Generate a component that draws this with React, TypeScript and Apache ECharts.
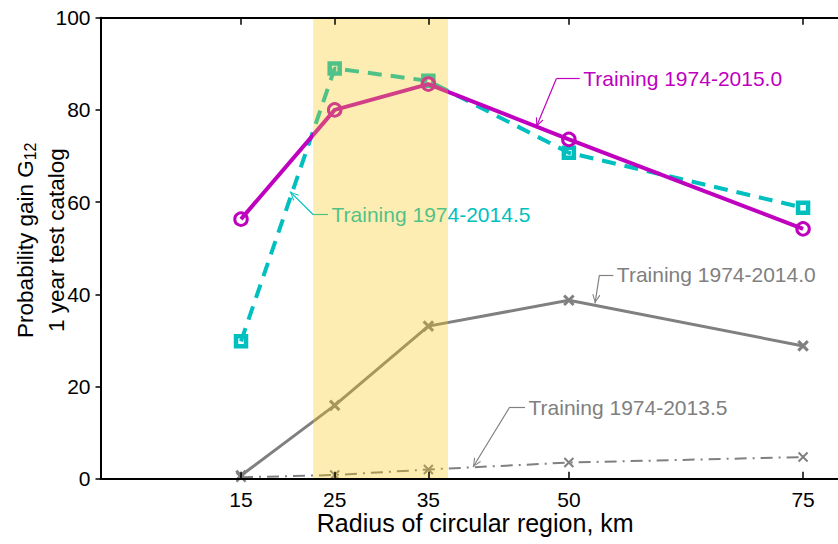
import React, { useEffect, useRef } from 'react';
import * as echarts from 'echarts';

// ---- data ----
const radii = [15, 25, 35, 50, 75];
const gain2015_0 = [56.3, 80.0, 85.6, 73.6, 54.2];
const gain2014_5 = [29.8, 89.0, 86.3, 70.7, 58.8];
const gain2014_0 = [0.7, 15.9, 33.1, 38.7, 28.8];
const gain2013_5 = [0.3, 0.8, 2.0, 3.5, 4.7];

const xTicks = [15, 25, 35, 50, 75];
const shadedBand = [22.7, 37.1];

const names = [
  'Training 1974-2015.0',
  'Training 1974-2014.5',
  'Training 1974-2014.0',
  'Training 1974-2013.5',
];

// annotation polylines in data coords: [text anchor, elbow, arrow tip]
const note2015_0 = [[51.16, 86.77], [48.66, 86.77], [46.53, 76.36]];
const note2014_5 = [[24.29, 57.3], [22.69, 57.3], [20.23, 62.26]];
const note2014_0 = [[54.75, 44.19], [53.26, 44.19], [52.79, 38.05]];
const note2013_5 = [[45.32, 15.55], [43.69, 15.55], [39.77, 2.54]];

const FONT = '"Liberation Sans", Arial, Helvetica, sans-serif';
const MAGENTA = '#BF00BF';
const CYAN = '#00BFBF';
const GRAY = '#808080';

const ARROW = 'path://M5,0L10,10L8.8,10.8L5,2.4L1.2,10.8L0,10ZM5,-10.8L5.01,-10.8L5,-10.79Z';
const XMARK = 'path://M0,0L10,10M10,0L0,10';

function pairs(xs: number[], ys: number[]) {
  return xs.map((x, i) => [x, ys[i]]);
}

function annotation(pts: number[][], text: string, color: string) {
  return {
    markLine: {
      silent: true,
      z: 5,
      symbol: ['none', 'none'],
      lineStyle: { color, width: 1.2, type: 'solid' },
      label: { show: false },
      emphasis: { disabled: true },
      data: [
        [{ coord: pts[0] }, { coord: pts[1] }],
        [{ coord: pts[1] }, { coord: pts[2], symbol: ARROW, symbolSize: [8, 18] }],
      ],
    },
    markPoint: {
      silent: true,
      z: 5,
      symbol: 'circle',
      symbolSize: 1,
      itemStyle: { color: 'transparent' },
      label: {
        show: true,
        position: 'right',
        distance: 3,
        formatter: text,
        color,
        fontSize: 21,
        fontFamily: FONT,
      },
      data: [{ coord: pts[0] }],
    },
  };
}

export default function App() {
  const ref = useRef<HTMLDivElement>(null);

  useEffect(() => {
    document.body.style.margin = '0';
    const chart = echarts.init(ref.current!, null, { renderer: 'svg' });
    const axisLine = { show: true, lineStyle: { color: '#000', width: 2 } };
    const option = {
      animation: false,
      backgroundColor: '#fff',
      grid: {
        left: 100.5,
        top: 17.7,
        width: 749.4,
        height: 461,
        containLabel: false,
        outerBoundsMode: 'none',
      },
      xAxis: [
        {
          type: 'value',
          position: 'bottom',
          min: 0,
          max: 80,
          z: 20,
          axisLine,
          splitLine: { show: false },
          axisTick: {
            show: true,
            inside: true,
            length: 7,
            customValues: xTicks,
            lineStyle: { color: '#000', width: 1.5 },
          },
          axisLabel: {
            customValues: xTicks,
            fontSize: 21,
            color: '#000',
            fontFamily: FONT,
            margin: 10,
          },
          name: 'Radius of circular region, km',
          nameLocation: 'middle',
          nameGap: 32,
          nameMoveOverlap: false,
          nameTextStyle: { fontSize: 25, color: '#000', fontFamily: FONT },
        },
        {
          type: 'value',
          position: 'top',
          min: 0,
          max: 80,
          z: 20,
          axisLine,
          splitLine: { show: false },
          axisTick: {
            show: true,
            inside: true,
            length: 7,
            customValues: xTicks,
            lineStyle: { color: '#000', width: 1.5 },
          },
          axisLabel: { show: false },
        },
      ],
      yAxis: {
        type: 'value',
        min: 0,
        max: 100,
        interval: 20,
        z: 20,
        axisLine,
        splitLine: { show: false },
        axisTick: { show: true, inside: false, length: 5, lineStyle: { color: '#000', width: 1.5 } },
        axisLabel: { fontSize: 21, color: '#000', fontFamily: FONT, margin: 10 },
        name: '{a|Probability gain G}{s|12}\n{a|1 year test catalog}',
        nameLocation: 'middle',
        nameRotate: 90,
        nameGap: 29,
        nameMoveOverlap: false,
        nameTextStyle: {
          color: '#000',
          fontFamily: FONT,
          padding: [0, 0, 0, 16],
          rich: {
            a: { fontSize: 22.5, lineHeight: 31, color: '#000', fontFamily: FONT },
            s: { fontSize: 16, padding: [10, 0, 0, 0], color: '#000', fontFamily: FONT },
          },
        },
      },
      series: [
        {
          name: names[3],
          type: 'line',
          data: pairs(radii, gain2013_5),
          symbol: XMARK,
          symbolSize: 9,
          lineStyle: { color: GRAY, width: 2, type: [12, 6, 2, 6] },
          itemStyle: { color: 'transparent', borderColor: GRAY, borderWidth: 2 },
          z: 2,
          ...annotation(note2013_5, names[3], GRAY),
        },
        {
          name: names[2],
          type: 'line',
          data: pairs(radii, gain2014_0),
          symbol: XMARK,
          symbolSize: 9.5,
          lineStyle: { color: GRAY, width: 3 },
          itemStyle: { color: 'transparent', borderColor: GRAY, borderWidth: 3 },
          z: 3,
          ...annotation(note2014_0, names[2], GRAY),
        },
        {
          name: names[1],
          type: 'line',
          data: pairs(radii, gain2014_5),
          symbol: 'rect',
          symbolSize: 10,
          lineStyle: { color: CYAN, width: 4, type: [14, 9] },
          itemStyle: { color: 'transparent', borderColor: CYAN, borderWidth: 4.5 },
          z: 4,
          ...annotation(note2014_5, names[1], CYAN),
        },
        {
          name: names[0],
          type: 'line',
          data: pairs(radii, gain2015_0),
          symbol: 'circle',
          symbolSize: 12.5,
          lineStyle: { color: MAGENTA, width: 4 },
          itemStyle: { color: 'transparent', borderColor: MAGENTA, borderWidth: 3 },
          z: 5,
          ...annotation(note2015_0, names[0], MAGENTA),
        },
        {
          name: 'band',
          type: 'line',
          data: [],
          silent: true,
          z: 10,
          markArea: {
            silent: true,
            z: 10,
            itemStyle: { color: 'rgba(250,200,20,0.32)' },
            data: [[{ xAxis: shadedBand[0] }, { xAxis: shadedBand[1] }]],
          },
        },
      ],
    };
    chart.setOption(option as any);
    return () => chart.dispose();
  }, []);

  return <div ref={ref} style={{ width: 838, height: 544 }} />;
}
